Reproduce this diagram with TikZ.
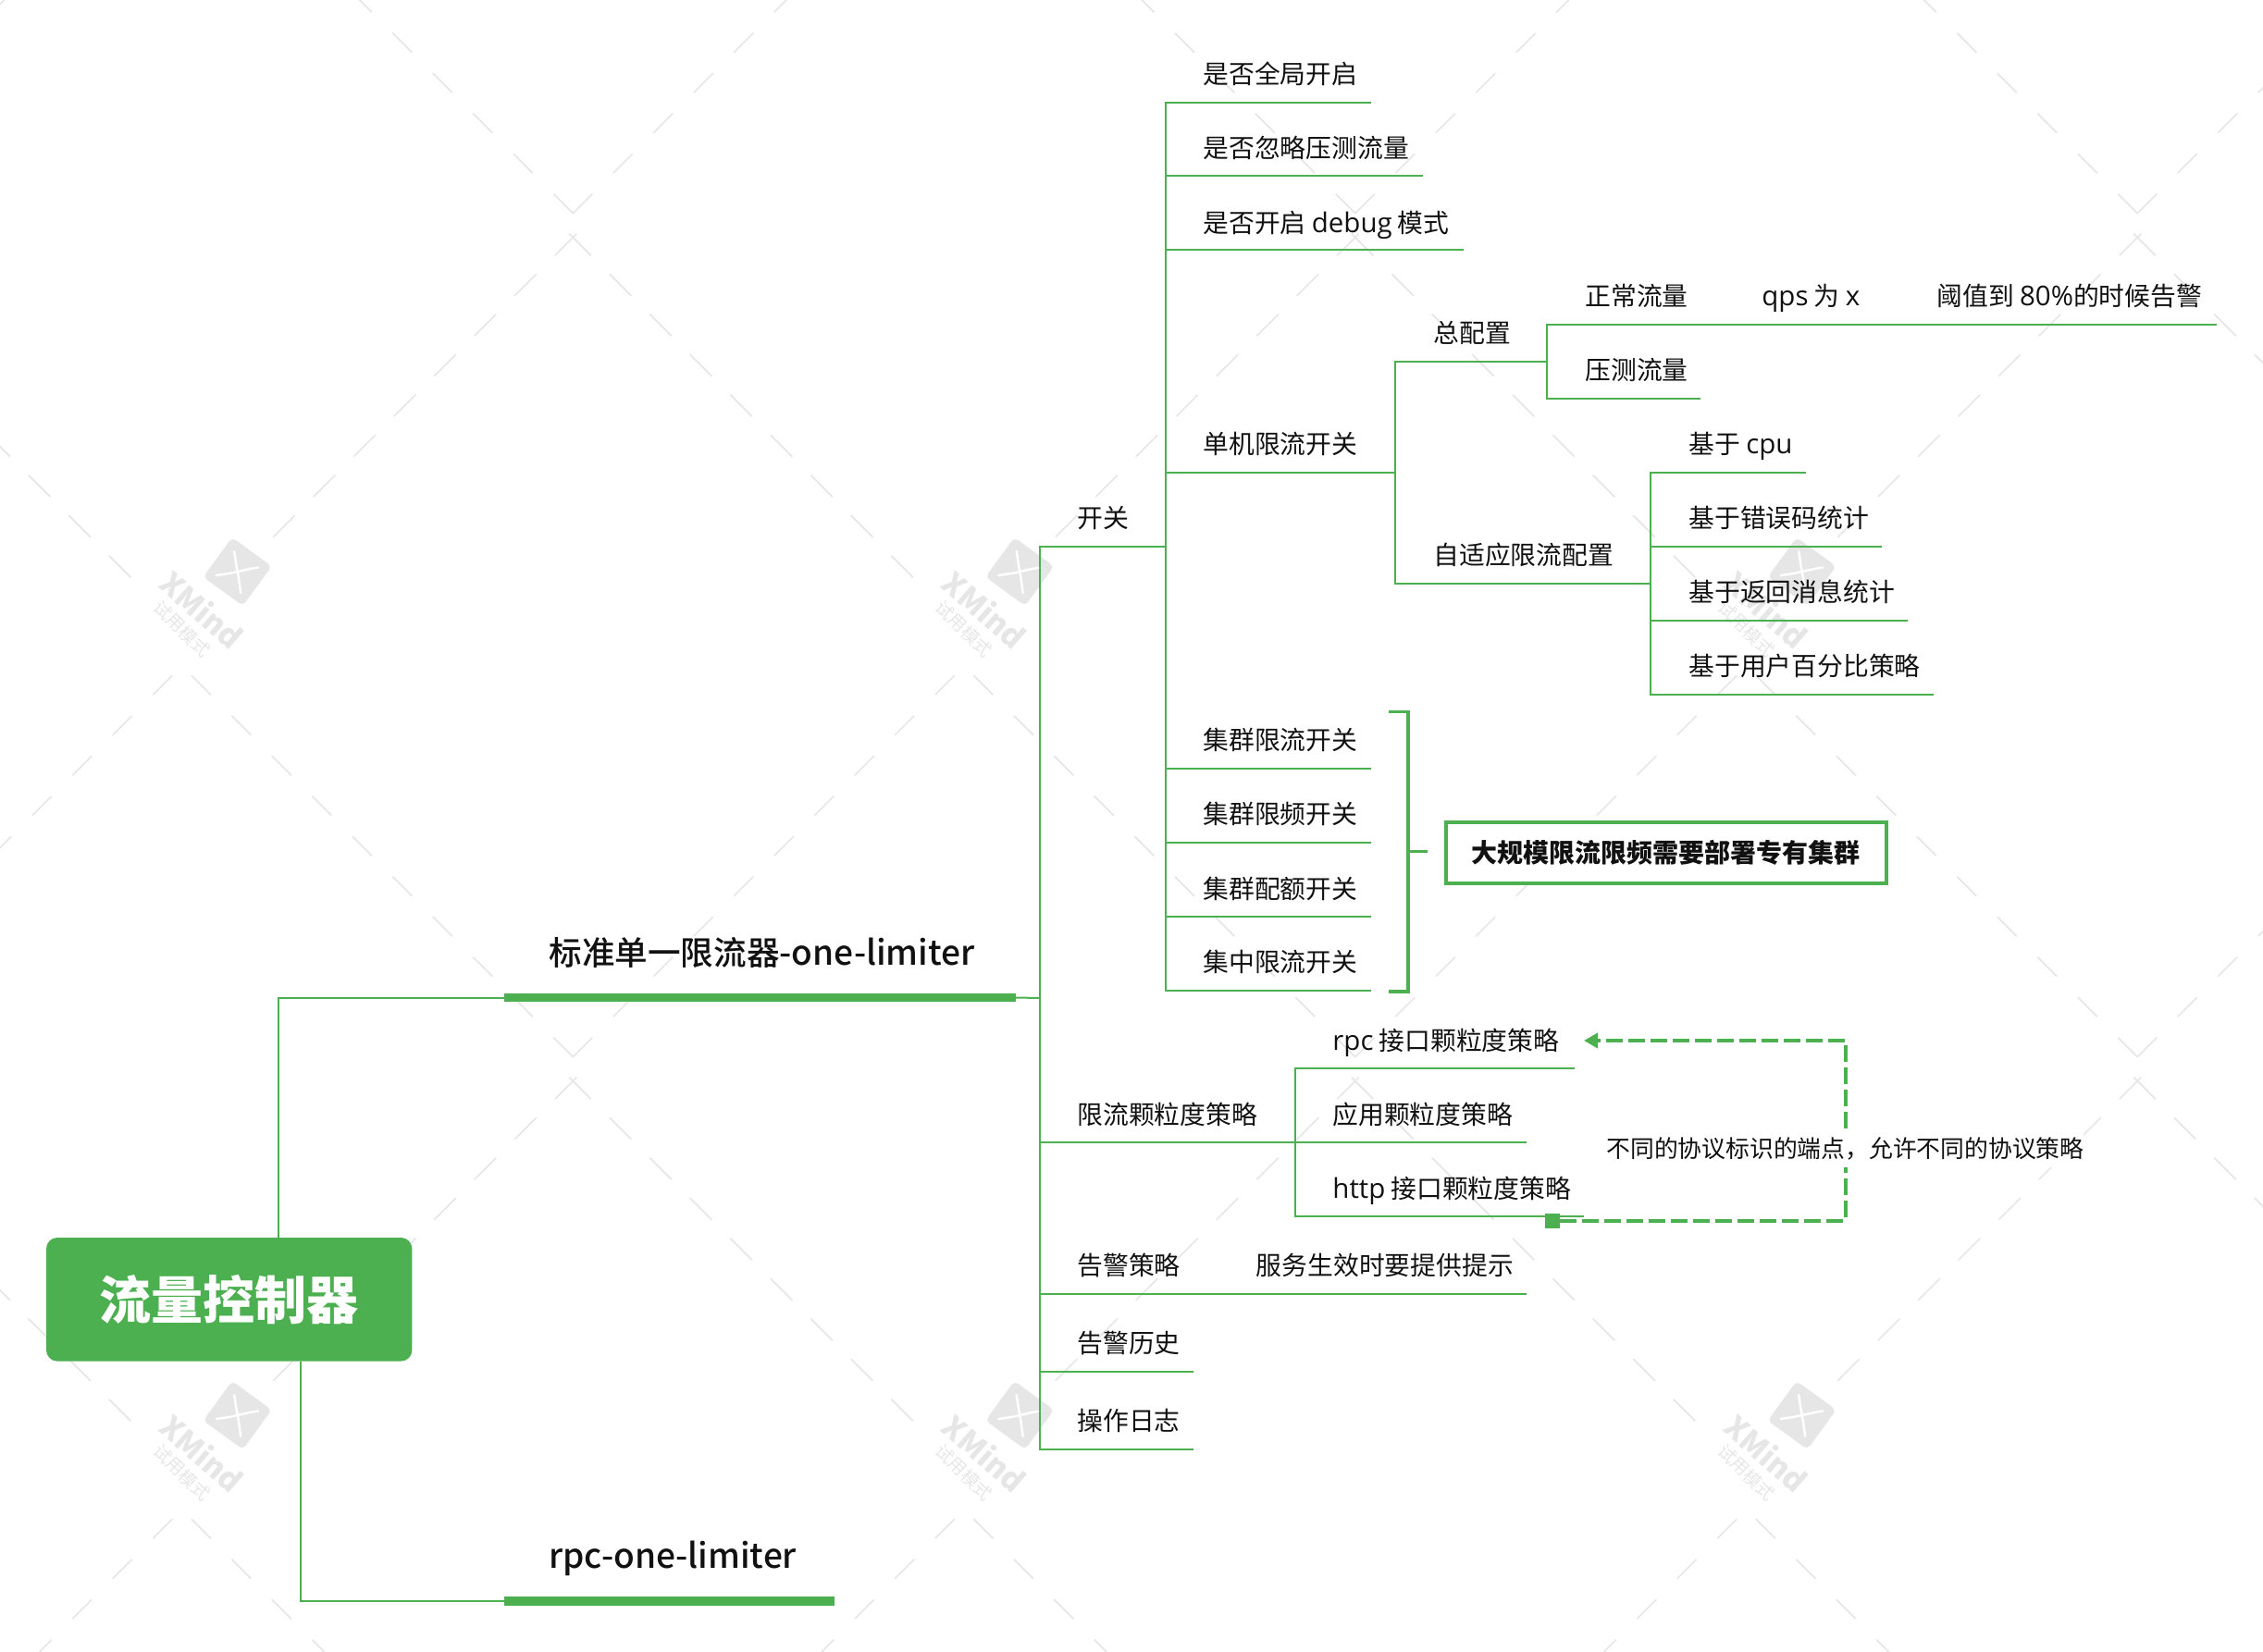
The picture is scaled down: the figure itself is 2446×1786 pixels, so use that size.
\documentclass[tikz,border=0pt]{standalone}
\usepackage{fontspec}
\setmainfont{Noto Sans CJK SC}
\newfontfamily\latf{Open Sans}[Scale=1.06]
\newfontfamily\medf{Noto Sans CJK SC Medium}
\newfontfamily\medl{Noto Sans CJK SC Medium}[Scale=1.04]
\newfontfamily\wmf{Noto Sans CJK SC}
\newcommand{\lt}[1]{{\latf #1}}
\newcommand{\lm}[1]{{\medl #1}}
\usetikzlibrary{arrows.meta}
\definecolor{xgreen}{HTML}{4CAF50}
\definecolor{wmgray}{HTML}{E6E6E6}
\definecolor{ink}{HTML}{111111}
\tikzset{
  link/.style={draw=xgreen,line width=1pt},
  bar/.style={draw=xgreen,line width=4.75pt},
  brk/.style={draw=xgreen,line width=1.6pt},
  rel/.style={draw=xgreen,line width=2pt,dash pattern=on 9pt off 3pt,-{Triangle[length=7.5pt,width=8pt]}},
  topic/.style={anchor=west,inner sep=0pt,text=ink,text height=12.2pt,text depth=1.7pt,font=\fontsize{13.9}{16}\selectfont},
  mainT/.style={anchor=west,inner sep=0pt,text=ink,text height=15.7pt,text depth=2.1pt,font=\fontsize{17.8}{20}\selectfont\medf},
  rootT/.style={fill=xgreen,rounded corners=6pt,minimum width=197.7pt,minimum height=66.8pt,inner sep=0pt,text=white,font=\fontsize{28}{32}\selectfont\wmf\bfseries},
  sumT/.style={draw=xgreen,line width=2pt,fill=white,minimum width=238pt,minimum height=33pt,inner sep=0pt,text=ink,font=\fontsize{14}{16}\selectfont\wmf\bfseries},
  relT/.style={fill=white,inner sep=0pt,minimum height=20pt,text=ink,text height=11.3pt,text depth=1.6pt,font=\fontsize{12.9}{15}\selectfont},
  sq/.style={fill=xgreen,minimum size=8pt,inner sep=0pt},
  wm/.style={draw=wmgray,line width=.85pt},
}
\begin{document}
\begin{tikzpicture}[x=0.5pt,y=-0.5pt]
\useasboundingbox (0,0) rectangle (2446,1786);
% watermark
\begin{scope}
\clip (0,0) rectangle (2446,1786);
\foreach \i in {-1,0,1,2,3}{
 \foreach \j in {0,1,2}{
  \pgfmathsetmacro{\xc}{619.3+845.5*\i}
  \pgfmathsetmacro{\yv}{230.7+912*\j}
  \pgfmathsetmacro{\yl}{256.7+912*\j}
  \foreach \k in {0,...,9}{
   \pgfmathsetmacro{\a}{43.5*\k}
   \pgfmathsetmacro{\b}{43.5*\k+21}
   \draw[wm] (\xc-\a,\yv-\a) -- (\xc-\b,\yv-\b);
   \draw[wm] (\xc+\a,\yv-\a) -- (\xc+\b,\yv-\b);
  }
  \foreach \k in {0,...,8}{
   \pgfmathsetmacro{\a}{43.5*\k-4}
   \pgfmathsetmacro{\b}{43.5*\k+19.5}
   \draw[wm] (\xc+\a,\yl+\a) -- (\xc+\b,\yl+\b);
  }
  \foreach \k in {0,...,7}{
   \pgfmathsetmacro{\a}{43.5*\k-4}
   \pgfmathsetmacro{\b}{43.5*\k+19.5}
   \draw[wm] (\xc-\a,\yl+\a) -- (\xc-\b,\yl+\b);
  }
 }
}
\foreach \i in {0,1,2}{
 \foreach \j in {0,1}{
  \pgfmathsetmacro{\lx}{256.7+845.5*\i}
  \pgfmathsetmacro{\ly}{618+912*\j}
  \begin{scope}[shift={(\lx,\ly)}]
   \node[fill=wmgray,rounded corners=2.5pt,minimum size=26.5pt,inner sep=0pt,rotate=-36] at (0,0) {};
   \draw[white,line width=1.2pt,line cap=round] (-3.5,-22) .. controls (-1,-5) and (-1,-5) .. (0,0) .. controls (1,5) and (2,12) .. (3.5,23);
   \draw[white,line width=1.2pt,line cap=round] (-23,4) .. controls (-8,2) and (-4,1) .. (0,0) .. controls (5,-1) and (12,-3) .. (22.5,-4.5);
   \node[rotate=-41,inner sep=0pt,text=wmgray,font=\fontsize{16.5}{18}\selectfont\wmf\bfseries] at (-38,41) {XMind};
   \node[rotate=-44,inner sep=0pt,text=wmgray,font=\fontsize{9.5}{11}\selectfont\wmf] at (-60,62) {试用模式};
  \end{scope}
 }
}
\end{scope}
% key points
\coordinate (busA) at (1124,1079);
\coordinate (busK) at (1260,591);
\coordinate (busD) at (1508,511);
\coordinate (busZ) at (1672,391);
\coordinate (busS) at (1784,631);
\coordinate (busG) at (1400,1235);
\coordinate (rTop) at (301,1338);
\coordinate (rBot) at (324.5,1471.6);
\coordinate (b1s) at (545,1078.5);
\coordinate (b1e) at (1098,1078.5);
\coordinate (b2s) at (545,1731);
\coordinate (b2e) at (902,1731);
\coordinate (e01) at (1482,111);
\coordinate (e02) at (1538,190.5);
\coordinate (e03) at (1582,270.5);
\coordinate (e04) at (1508,511);
\coordinate (e05) at (1482,830.5);
\coordinate (e06) at (1482,911);
\coordinate (e07) at (1482,991);
\coordinate (e08) at (1482,1071);
\coordinate (e11) at (2396,351);
\coordinate (e12) at (1838,431);
\coordinate (e21) at (1952,511);
\coordinate (e22) at (2034,591);
\coordinate (e23) at (2062,671);
\coordinate (e24) at (2090,751);
\coordinate (e31) at (1702,1155);
\coordinate (e32) at (1650,1235);
\coordinate (e33) at (1712,1315);
\coordinate (e41) at (1650,1399);
\coordinate (e42) at (1290,1483);
\coordinate (e43) at (1290,1567);
\coordinate (brT) at (1501,769.5);
\coordinate (brC) at (1522,920.5);
\coordinate (brB) at (1501,1072);
\coordinate (brK) at (1543,920.5);
\coordinate (rel1) at (1995,1319.5);
\coordinate (rel2) at (1995,1125);
\coordinate (relTip) at (1712,1125);
% root and main
\node[rootT] (root) at (247.7,1404.8) {流量控制器};
\draw[link] (rTop) |- (b1s);
\draw[link] (rBot) |- (b2s);
\draw[bar] (b1s) -- (b1e);
\draw[bar] (b2s) -- (b2e);
\node[mainT] (m1) at (593,1029.5) {标准单一限流器\lm{-one-limiter}};
\node[mainT] (m2) at (593,1682) {\lm{rpc-one-limiter}};
% level 2
\draw[link] (b1e) -- (busA);
\draw[link] (busK) -| (busA);
\draw[link] (busA) |- (e43);
\draw[link] (busA) |- (e42);
\draw[link] (busA) |- (e41);
\draw[link] (busA) |- (e32);
% switch branch
\draw[link] (busK) |- (e01);
\draw[link] (busK) |- (e02);
\draw[link] (busK) |- (e03);
\draw[link] (busK) |- (e04);
\draw[link] (busK) |- (e05);
\draw[link] (busK) |- (e06);
\draw[link] (busK) |- (e07);
\draw[link] (busK) |- (e08);
\draw[link] (busD) |- (busZ);
\draw[link] (busD) |- (busS);
\draw[link] (busZ) -- ++(0,-40) -- (e11);
\draw[link] (busZ) |- (e12);
\draw[link] (busS) |- (e21);
\draw[link] (busS) |- (e22);
\draw[link] (busS) |- (e23);
\draw[link] (busS) |- (e24);
\draw[link] (busG) |- (e31);
\draw[link] (busG) |- (e33);
% bracket
\draw[brk] (brT) -| (brC) |- (brB);
\draw[brk] (brC) -- (brK);
% texts
\node[topic] (n01) at (1164,560) {开关};
\node[topic] (n02) at (1300,79.6) {是否全局开启};
\node[topic] (n03) at (1300,160) {是否忽略压测流量};
\node[topic] (n04) at (1300,241) {是否开启 \lt{debug} 模式};
\node[topic] (n05) at (1300,480) {单机限流开关};
\node[topic] (n06) at (1549,360) {总配置};
\node[topic] (n07) at (1549,600) {自适应限流配置};
\node[topic] (n08) at (1713,320) {正常流量};
\node[topic] (n09) at (1904,320) {\lt{qps} 为 \lt{x}};
\node[topic] (n10) at (2093,320) {阈值到 \lt{80\%}的时候告警};
\node[topic] (n11) at (1713,400) {压测流量};
\node[topic] (n12) at (1825,480) {基于 \lt{cpu}};
\node[topic] (n13) at (1825,560) {基于错误码统计};
\node[topic] (n14) at (1825,640) {基于返回消息统计};
\node[topic] (n15) at (1825,720) {基于用户百分比策略};
\node[topic] (n16) at (1300,800) {集群限流开关};
\node[topic] (n17) at (1300,880) {集群限频开关};
\node[topic] (n18) at (1300,961) {集群配额开关};
\node[topic] (n19) at (1300,1040) {集中限流开关};
\node[sumT] (sum) at (1800.7,921.7) {大规模限流限频需要部署专有集群};
\node[topic] (n20) at (1164,1205) {限流颗粒度策略};
\node[topic] (n21) at (1440,1124.5) {\lt{rpc} 接口颗粒度策略};
\node[topic] (n22) at (1440,1205) {应用颗粒度策略};
\node[topic] (n23) at (1440,1285) {\lt{http} 接口颗粒度策略};
\node[topic] (n24) at (1164,1368) {告警策略};
\node[topic] (n25) at (1357.5,1368) {服务生效时要提供提示};
\node[topic] (n26) at (1164,1452) {告警历史};
\node[topic] (n27) at (1164,1536) {操作日志};
% relation
\node[sq] (sqS) at (1678,1319.5) {};
\draw[rel] (sqS) -- (rel1) -- (rel2) -- (relTip);
\node[relT,anchor=west] (relL) at (1736,1242) {不同的协议标识的端点，允许不同的协议策略};
\end{tikzpicture}
\end{document}
